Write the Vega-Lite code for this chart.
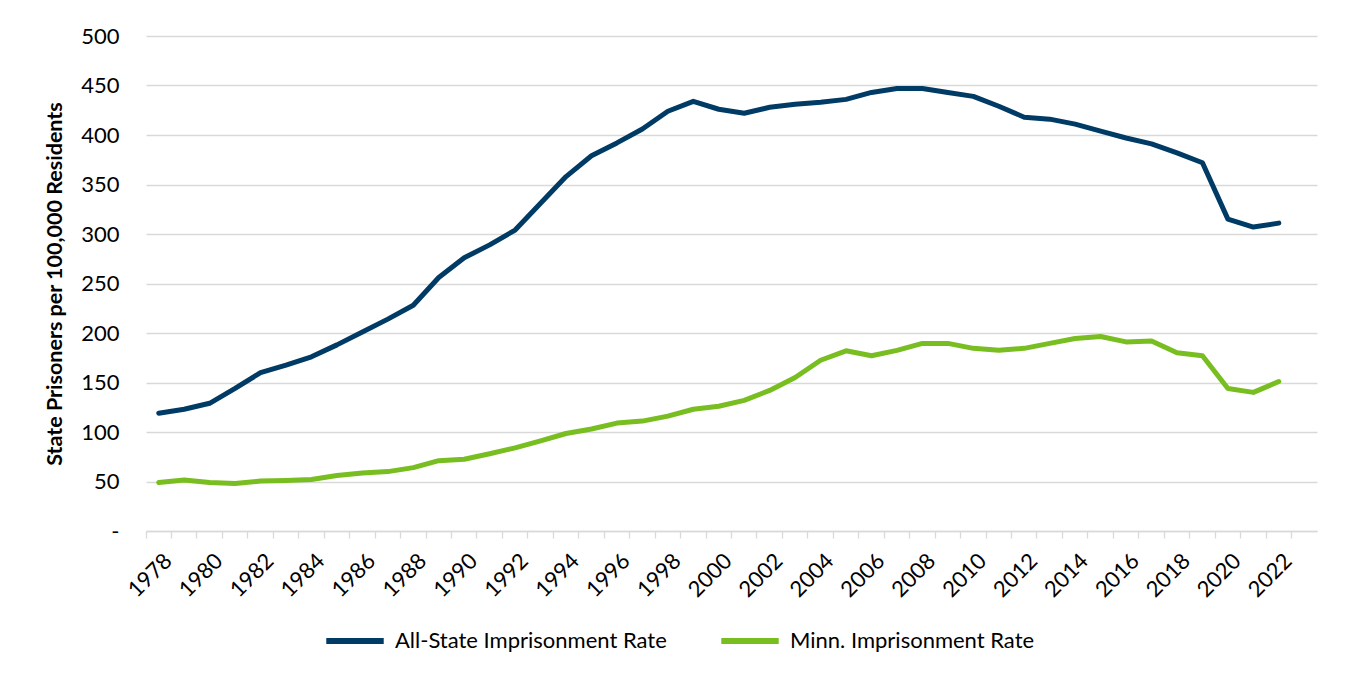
{
  "$schema": "https://vega.github.io/schema/vega-lite/v6.json",
  "width": 1171,
  "height": 495,
  "autosize": {"type": "none"},
  "padding": {"left": 146, "top": 36, "right": 36, "bottom": 144},
  "background": "white",
  "config": {"view": {"stroke": null}, "font": "Lato"},
  "datasets": {
    "rates": [
      {"year": 1978, "series": "All-State Imprisonment Rate", "rate": 119},
      {"year": 1979, "series": "All-State Imprisonment Rate", "rate": 123},
      {"year": 1980, "series": "All-State Imprisonment Rate", "rate": 129},
      {"year": 1981, "series": "All-State Imprisonment Rate", "rate": 144},
      {"year": 1982, "series": "All-State Imprisonment Rate", "rate": 160},
      {"year": 1983, "series": "All-State Imprisonment Rate", "rate": 167.5},
      {"year": 1984, "series": "All-State Imprisonment Rate", "rate": 176},
      {"year": 1985, "series": "All-State Imprisonment Rate", "rate": 188},
      {"year": 1986, "series": "All-State Imprisonment Rate", "rate": 201},
      {"year": 1987, "series": "All-State Imprisonment Rate", "rate": 214},
      {"year": 1988, "series": "All-State Imprisonment Rate", "rate": 228},
      {"year": 1989, "series": "All-State Imprisonment Rate", "rate": 256},
      {"year": 1990, "series": "All-State Imprisonment Rate", "rate": 276},
      {"year": 1991, "series": "All-State Imprisonment Rate", "rate": 289},
      {"year": 1992, "series": "All-State Imprisonment Rate", "rate": 304},
      {"year": 1993, "series": "All-State Imprisonment Rate", "rate": 331},
      {"year": 1994, "series": "All-State Imprisonment Rate", "rate": 358},
      {"year": 1995, "series": "All-State Imprisonment Rate", "rate": 379},
      {"year": 1996, "series": "All-State Imprisonment Rate", "rate": 392},
      {"year": 1997, "series": "All-State Imprisonment Rate", "rate": 406},
      {"year": 1998, "series": "All-State Imprisonment Rate", "rate": 424},
      {"year": 1999, "series": "All-State Imprisonment Rate", "rate": 434},
      {"year": 2000, "series": "All-State Imprisonment Rate", "rate": 426},
      {"year": 2001, "series": "All-State Imprisonment Rate", "rate": 422},
      {"year": 2002, "series": "All-State Imprisonment Rate", "rate": 428},
      {"year": 2003, "series": "All-State Imprisonment Rate", "rate": 431},
      {"year": 2004, "series": "All-State Imprisonment Rate", "rate": 433},
      {"year": 2005, "series": "All-State Imprisonment Rate", "rate": 436},
      {"year": 2006, "series": "All-State Imprisonment Rate", "rate": 443},
      {"year": 2007, "series": "All-State Imprisonment Rate", "rate": 447},
      {"year": 2008, "series": "All-State Imprisonment Rate", "rate": 447},
      {"year": 2009, "series": "All-State Imprisonment Rate", "rate": 443},
      {"year": 2010, "series": "All-State Imprisonment Rate", "rate": 439},
      {"year": 2011, "series": "All-State Imprisonment Rate", "rate": 429},
      {"year": 2012, "series": "All-State Imprisonment Rate", "rate": 418},
      {"year": 2013, "series": "All-State Imprisonment Rate", "rate": 416},
      {"year": 2014, "series": "All-State Imprisonment Rate", "rate": 411},
      {"year": 2015, "series": "All-State Imprisonment Rate", "rate": 404},
      {"year": 2016, "series": "All-State Imprisonment Rate", "rate": 397},
      {"year": 2017, "series": "All-State Imprisonment Rate", "rate": 391},
      {"year": 2018, "series": "All-State Imprisonment Rate", "rate": 382},
      {"year": 2019, "series": "All-State Imprisonment Rate", "rate": 372},
      {"year": 2020, "series": "All-State Imprisonment Rate", "rate": 315},
      {"year": 2021, "series": "All-State Imprisonment Rate", "rate": 307},
      {"year": 2022, "series": "All-State Imprisonment Rate", "rate": 311},
      {"year": 1978, "series": "Minn. Imprisonment Rate", "rate": 49},
      {"year": 1979, "series": "Minn. Imprisonment Rate", "rate": 51.5},
      {"year": 1980, "series": "Minn. Imprisonment Rate", "rate": 49},
      {"year": 1981, "series": "Minn. Imprisonment Rate", "rate": 48},
      {"year": 1982, "series": "Minn. Imprisonment Rate", "rate": 50.5},
      {"year": 1983, "series": "Minn. Imprisonment Rate", "rate": 51},
      {"year": 1984, "series": "Minn. Imprisonment Rate", "rate": 52},
      {"year": 1985, "series": "Minn. Imprisonment Rate", "rate": 56},
      {"year": 1986, "series": "Minn. Imprisonment Rate", "rate": 58.5},
      {"year": 1987, "series": "Minn. Imprisonment Rate", "rate": 60},
      {"year": 1988, "series": "Minn. Imprisonment Rate", "rate": 64},
      {"year": 1989, "series": "Minn. Imprisonment Rate", "rate": 71},
      {"year": 1990, "series": "Minn. Imprisonment Rate", "rate": 72.5},
      {"year": 1991, "series": "Minn. Imprisonment Rate", "rate": 78},
      {"year": 1992, "series": "Minn. Imprisonment Rate", "rate": 84},
      {"year": 1993, "series": "Minn. Imprisonment Rate", "rate": 91},
      {"year": 1994, "series": "Minn. Imprisonment Rate", "rate": 98.5},
      {"year": 1995, "series": "Minn. Imprisonment Rate", "rate": 103},
      {"year": 1996, "series": "Minn. Imprisonment Rate", "rate": 109},
      {"year": 1997, "series": "Minn. Imprisonment Rate", "rate": 111},
      {"year": 1998, "series": "Minn. Imprisonment Rate", "rate": 116},
      {"year": 1999, "series": "Minn. Imprisonment Rate", "rate": 123},
      {"year": 2000, "series": "Minn. Imprisonment Rate", "rate": 126},
      {"year": 2001, "series": "Minn. Imprisonment Rate", "rate": 132},
      {"year": 2002, "series": "Minn. Imprisonment Rate", "rate": 142},
      {"year": 2003, "series": "Minn. Imprisonment Rate", "rate": 155},
      {"year": 2004, "series": "Minn. Imprisonment Rate", "rate": 172.5},
      {"year": 2005, "series": "Minn. Imprisonment Rate", "rate": 182},
      {"year": 2006, "series": "Minn. Imprisonment Rate", "rate": 177},
      {"year": 2007, "series": "Minn. Imprisonment Rate", "rate": 182.5},
      {"year": 2008, "series": "Minn. Imprisonment Rate", "rate": 189.5},
      {"year": 2009, "series": "Minn. Imprisonment Rate", "rate": 189.5},
      {"year": 2010, "series": "Minn. Imprisonment Rate", "rate": 184.5},
      {"year": 2011, "series": "Minn. Imprisonment Rate", "rate": 182.5},
      {"year": 2012, "series": "Minn. Imprisonment Rate", "rate": 184.5},
      {"year": 2013, "series": "Minn. Imprisonment Rate", "rate": 189.5},
      {"year": 2014, "series": "Minn. Imprisonment Rate", "rate": 194.5},
      {"year": 2015, "series": "Minn. Imprisonment Rate", "rate": 196.5},
      {"year": 2016, "series": "Minn. Imprisonment Rate", "rate": 191},
      {"year": 2017, "series": "Minn. Imprisonment Rate", "rate": 192},
      {"year": 2018, "series": "Minn. Imprisonment Rate", "rate": 180},
      {"year": 2019, "series": "Minn. Imprisonment Rate", "rate": 177},
      {"year": 2020, "series": "Minn. Imprisonment Rate", "rate": 144},
      {"year": 2021, "series": "Minn. Imprisonment Rate", "rate": 140},
      {"year": 2022, "series": "Minn. Imprisonment Rate", "rate": 151}
    ]
  },
  "data": {"name": "rates"},
  "mark": {"type": "line", "strokeWidth": 5, "strokeCap": "round", "strokeJoin": "round"},
  "encoding": {
    "x": {
      "field": "year",
      "type": "ordinal",
      "bandPosition": 0.5,
      "scale": {
        "type": "band",
        "paddingInner": 0,
        "paddingOuter": 0,
        "domain": [1978, 1979, 1980, 1981, 1982, 1983, 1984, 1985, 1986, 1987, 1988, 1989, 1990, 1991, 1992, 1993, 1994, 1995, 1996, 1997, 1998, 1999, 2000, 2001, 2002, 2003, 2004, 2005, 2006, 2007, 2008, 2009, 2010, 2011, 2012, 2013, 2014, 2015, 2016, 2017, 2018, 2019, 2020, 2021, 2022, 2023]
      },
      "axis": {
        "title": null,
        "bandPosition": 0,
        "labelOffset": 9.5,
        "labelAngle": -45,
        "labelAlign": "right",
        "labelBaseline": "middle",
        "labelFontSize": 22,
        "labelColor": "#000000",
        "labelPadding": 19,
        "labelExpr": "datum.value % 2 == 0 ? datum.label : ''",
        "labelOverlap": false,
        "domainColor": "#d9d9d9",
        "domainWidth": 1.3,
        "tickColor": "#d9d9d9",
        "tickWidth": 1.3,
        "tickSize": 7,
        "grid": false
      }
    },
    "y": {
      "field": "rate",
      "type": "quantitative",
      "scale": {"domain": [0, 500], "nice": false},
      "axis": {
        "title": "State Prisoners per 100,000 Residents",
        "titleFontSize": 21.5,
        "titleFontWeight": "bold",
        "titleColor": "#000000",
        "titlePadding": 14,
        "values": [0, 50, 100, 150, 200, 250, 300, 350, 400, 450, 500],
        "labelExpr": "datum.value == 0 ? '-\u00a0' : datum.label",
        "labelFontSize": 22,
        "labelColor": "#000000",
        "labelPadding": 27,
        "ticks": false,
        "domain": false,
        "gridColor": "#d9d9d9",
        "gridWidth": 1.3
      }
    },
    "color": {
      "field": "series",
      "type": "nominal",
      "scale": {
        "domain": ["All-State Imprisonment Rate", "Minn. Imprisonment Rate"],
        "range": ["#003B65", "#78BE20"]
      },
      "legend": {
        "title": null,
        "orient": "none",
        "legendX": 177,
        "legendY": 573,
        "direction": "horizontal",
        "symbolType": "stroke",
        "symbolSize": 3300,
        "symbolStrokeWidth": 6,
        "labelFontSize": 22,
        "labelColor": "#000000",
        "labelOffset": 8,
        "columnPadding": 42,
        "labelLimit": 400
      }
    }
  }
}
